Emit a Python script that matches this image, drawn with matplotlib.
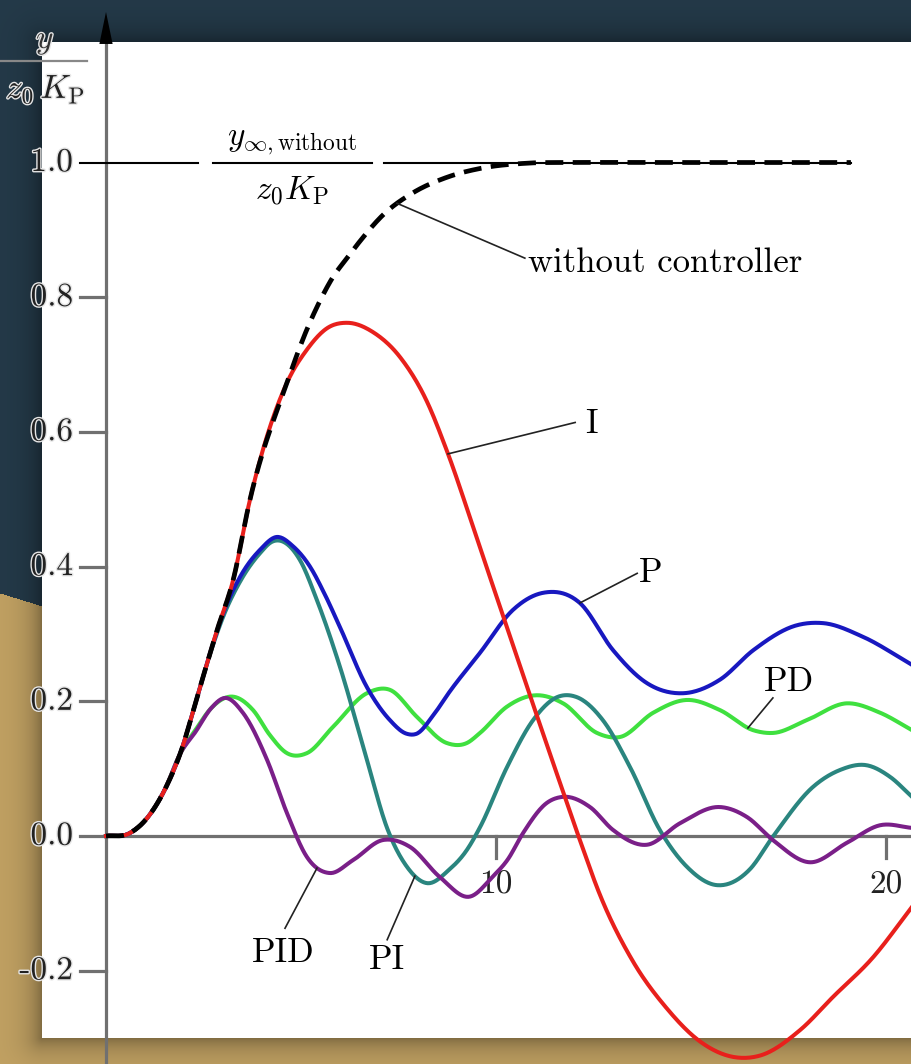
import numpy as np
import matplotlib
matplotlib.use("Agg")
import matplotlib.pyplot as plt
import matplotlib.patheffects as pe

plt.rcParams['mathtext.fontset'] = 'cm'
plt.rcParams['font.family'] = 'cmr10'
plt.rcParams['axes.unicode_minus'] = False

# --- data (time, y/(z0*Kp)) ---
x_start = [0, 0.6, 1.1, 1.5, 1.9]
y_start = [0, 0.004, 0.03, 0.068, 0.122]

x_none = x_start + [2.41, 2.85, 3.26, 3.69, 4.64, 5.15, 5.49, 5.82, 6.18, 6.51, 7.1, 7.87, 8.74, 9.67, 10.8, 12.0, 14.0, 16.0, 19.1]
y_none = y_start + [0.221, 0.306, 0.38, 0.499, 0.673, 0.752, 0.795, 0.83, 0.858, 0.883, 0.922, 0.955, 0.978, 0.992, 0.999, 1.0, 1.0, 1.0, 1.0]

x_i = x_start + [2.41, 2.85, 3.26, 3.69, 4.64, 5.15, 5.67, 6.18, 6.85, 7.54, 8.23, 8.74, 9.59, 10.18, 10.87, 11.64, 12.15, 12.67, 13.51, 14.38, 15.23, 16.08, 16.77, 17.8, 18.64, 19.67, 20.67]
y_i = y_start + [0.221, 0.306, 0.38, 0.499, 0.673, 0.722, 0.754, 0.762, 0.748, 0.711, 0.645, 0.572, 0.428, 0.327, 0.209, 0.079, -0.006, -0.088, -0.186, -0.256, -0.305, -0.328, -0.326, -0.288, -0.239, -0.18, -0.105]

x_p = x_start + [2.41, 2.74, 3.0, 3.44, 3.95, 4.38, 4.8, 5.23, 5.6, 6.0, 6.69, 7.28, 7.7, 7.97, 8.4, 8.82, 9.59, 10.44, 11.2, 12.15, 13.0, 13.87, 14.8, 15.74, 16.6, 17.72, 18.4, 19.4, 20.67]
y_p = y_start + [0.221, 0.285, 0.33, 0.385, 0.425, 0.444, 0.43, 0.40, 0.36, 0.31, 0.221, 0.172, 0.152, 0.152, 0.18, 0.215, 0.272, 0.336, 0.361, 0.346, 0.276, 0.227, 0.212, 0.232, 0.276, 0.313, 0.316, 0.296, 0.254]

x_pi = x_start + [2.41, 2.74, 3.0, 3.44, 3.95, 4.26, 4.97, 5.41, 6.0, 6.69, 7.2, 7.72, 8.23, 8.8, 9.25, 9.59, 10.28, 10.95, 11.56, 12.08, 12.74, 13.44, 14.2, 14.9, 15.67, 16.5, 17.1, 18.13, 18.82, 19.51, 20.1, 20.67]
y_pi = y_start + [0.221, 0.283, 0.325, 0.378, 0.42, 0.437, 0.41, 0.35, 0.251, 0.113, 0.013, -0.046, -0.07, -0.05, -0.021, 0.013, 0.102, 0.172, 0.206, 0.206, 0.172, 0.102, 0.009, -0.046, -0.073, -0.05, -0.001, 0.073, 0.098, 0.105, 0.088, 0.058]

x_pd = x_start + [2.3, 2.7, 3.23, 3.77, 4.2, 4.64, 5.15, 5.82, 6.69, 7.28, 7.97, 8.74, 9.25, 9.59, 10.28, 11.05, 11.72, 12.59, 13.18, 14.03, 14.9, 15.74, 16.6, 17.1, 17.97, 19.0, 19.85, 20.67]
y_pd = y_start + [0.158, 0.19, 0.207, 0.187, 0.15, 0.123, 0.123, 0.162, 0.212, 0.217, 0.177, 0.138, 0.138, 0.153, 0.192, 0.209, 0.197, 0.153, 0.147, 0.183, 0.202, 0.187, 0.157, 0.153, 0.172, 0.197, 0.183, 0.157]

x_pid = x_start + [2.3, 2.7, 3.05, 3.51, 4.13, 4.64, 5.15, 5.74, 6.33, 7.1, 7.79, 8.56, 9.33, 9.92, 10.3, 10.69, 11.3, 11.69, 12.41, 13.0, 13.87, 14.72, 15.74, 16.44, 17.1, 18.05, 19.0, 19.85, 20.67]
y_pid = y_start + [0.155, 0.19, 0.205, 0.183, 0.113, 0.034, -0.031, -0.055, -0.036, -0.006, -0.016, -0.061, -0.09, -0.06, -0.035, 0.004, 0.049, 0.058, 0.043, 0.009, -0.013, 0.019, 0.043, 0.028, -0.006, -0.039, -0.01, 0.016, 0.012]

yticks = [-0.2, 0.0, 0.2, 0.4, 0.6, 0.8, 1.0]
ytick_labels = ["-0.2", "0.0", "0.2", "0.4", "0.6", "0.8", "1.0"]
xticks = [10, 20]
xtick_labels = ["10", "20"]


def smooth(x, y, n=800):
    # cubic hermite through the read points, slopes from np.gradient
    x = np.asarray(x, float)
    y = np.asarray(y, float)
    m = np.gradient(y, x)
    xs = np.linspace(x[0], x[-1], n)
    i = np.clip(np.searchsorted(x, xs, side='right') - 1, 0, len(x) - 2)
    h = x[i+1] - x[i]
    t = (xs - x[i]) / h
    ys = ((2*t**3 - 3*t**2 + 1)*y[i] + (t**3 - 2*t**2 + t)*h*m[i]
          + (-2*t**3 + 3*t**2)*y[i+1] + (t**3 - t**2)*h*m[i+1])
    return xs, ys


W, H = 912, 1064
PX0, PY0, SX, SY = 106, 836, 39.0, 673.5   # pixel position of origin, pixels per unit

fig = plt.figure(figsize=(W/100, H/100), dpi=100)

# backdrop: navy / tan with the white sheet on top
bg = fig.add_axes([0, 0, 1, 1])
bg.axis('off')
yy, xx = np.mgrid[0:H, 0:W]
navy = np.array([36, 58, 73]) / 255
tan = np.array([194, 162, 99]) / 255
img = np.where((yy > 593 + 0.31*xx)[..., None], tan, navy)
dx = np.maximum(42 - xx, 0)
dy = np.maximum(np.maximum(42 - yy, yy - 1037), 0)
d = np.hypot(dx, dy)
img = img * (1 - 0.35*np.exp(-d/14))[..., None]
paper = (xx >= 42) & (yy >= 42) & (yy <= 1037)
img[paper] = 1.0
bg.imshow(img, extent=(0, W, H, 0), interpolation='bilinear')
bg.set_xlim(0, W)
bg.set_ylim(H, 0)

ax = fig.add_axes([0, 0, 1, 1])
ax.patch.set_alpha(0)
ax.axis('off')
ax.set_xlim(-PX0/SX, (W-PX0)/SX)
ax.set_ylim((PY0-H)/SY, PY0/SY)

halo = [pe.withStroke(linewidth=2, foreground='#e6e6e6')]
axis_col = '#707070'
fs = 25

# axes with arrow
ax.plot([0, 0], [(PY0-H)/SY, 1.18], color=axis_col, lw=2.3, solid_capstyle='butt', zorder=2)
ax.fill([-0.17, 0.17, 0], [1.176, 1.176, 1.2235], color='black', lw=0, zorder=3)
ax.plot([0, (W-PX0)/SX], [0, 0], color=axis_col, lw=2.3, zorder=2)
for v, lab in zip(yticks, ytick_labels):
    if v != 1.0:
        ax.plot([-0.667, 0], [v, v], color=axis_col, lw=2.3, zorder=2)
    ax.text(-0.85, v, lab, ha='right', va='center', fontsize=24, color='#222222', path_effects=halo)
for v, lab in zip(xticks, xtick_labels):
    ax.plot([v, v], [0, -0.033], color=axis_col, lw=2.3, zorder=2)
    ax.text(v, -0.073, lab, ha='center', va='center', fontsize=24, color='#222222')

# y label as fraction
ax.text(-1.56, 1.178, r'$y$', ha='center', va='center', fontsize=24, color='#333333', path_effects=halo)
ax.plot([-2.72, -0.49], [1.151, 1.151], color='#888888', lw=1.6)
ax.text(-1.55, 1.108, r'$z_0\,K_\mathrm{P}$', ha='center', va='center', fontsize=24, color='#222222', path_effects=halo)

# reference line at 1 with its label
ax.plot([-0.667, 2.36], [1, 1], color='black', lw=1.5)
ax.plot([7.13, 19.1], [1, 1], color='black', lw=1.5)
ax.plot([2.74, 6.82], [1, 1], color='black', lw=1.5)
ax.text(4.77, 1.03, r'$y_{\infty,\mathrm{without}}$', ha='center', va='center', fontsize=24)
ax.text(4.77, 0.958, r'$z_0K_\mathrm{P}$', ha='center', va='center', fontsize=24)

curves = [
    (x_pd, y_pd, '#3fe03f'),
    (x_pi, y_pi, '#2a857f'),
    (x_p, y_p, '#1818c0'),
    (x_pid, y_pid, '#7a1f88'),
    (x_i, y_i, '#e8201c'),
]
smoothed = {}
for xs, ys, col in curves:
    sx, sy = smooth(xs, ys)
    smoothed[col] = (sx, sy)
    ax.plot(sx, sy, color=col, lw=2.9, solid_joinstyle='round', zorder=4)

nx, ny = smooth(x_none, y_none)
ax.plot(nx, ny, color='black', lw=3.4, dashes=(3.8, 2.0), zorder=5)

# leaders and labels
def on(col, xv):
    sx, sy = smoothed[col]
    return np.interp(xv, sx, sy)

lead = dict(color='#222222', lw=1.2, zorder=6)
ax.plot([7.46, 10.74], [np.interp(7.46, nx, ny), 0.858], **lead)
ax.text(10.82, 0.851, 'without controller', ha='left', va='center', fontsize=fs)
ax.plot([8.77, 12.03], [on('#e8201c', 8.77), 0.614], **lead)
ax.text(12.44, 0.612, 'I', ha='center', va='center', fontsize=fs)
ax.plot([12.15, 13.62], [on('#1818c0', 12.15), 0.39], **lead)
ax.text(13.97, 0.39, 'P', ha='center', va='center', fontsize=fs)
ax.plot([16.46, 17.1], [on('#3fe03f', 16.46), 0.205], **lead)
ax.text(17.51, 0.229, 'PD', ha='center', va='center', fontsize=fs)
ax.plot([5.41, 4.59], [on('#7a1f88', 5.41), -0.137], **lead)
ax.text(4.54, -0.174, 'PID', ha='center', va='center', fontsize=fs)
ax.plot([7.92, 7.21], [on('#2a857f', 7.92), -0.154], **lead)
ax.text(7.21, -0.184, 'PI', ha='center', va='center', fontsize=fs)

fig.savefig('out.png', dpi=100)
